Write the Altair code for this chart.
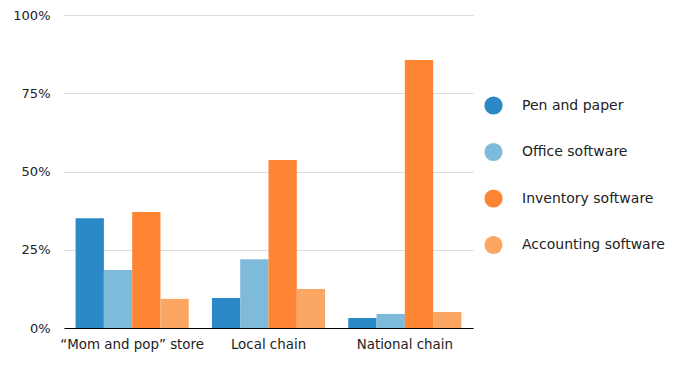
import altair as alt
import pandas as pd

categories = ["\u201cMom and pop\u201d store", "Local chain", "National chain"]
series = ["Pen and paper", "Office software", "Inventory software", "Accounting software"]
colors = ["#2a89c6", "#7ebada", "#fe8533", "#fba663"]
values = {
    "Pen and paper": [35.1, 9.6, 3.2],
    "Office software": [18.5, 22.0, 4.5],
    "Inventory software": [37.1, 53.7, 85.6],
    "Accounting software": [9.3, 12.5, 5.1],
}

rows = []
for s in series:
    for c, v in zip(categories, values[s]):
        rows.append({"category": c, "series": s, "value": v / 100})
df = pd.DataFrame(rows)

font = "DejaVu Sans"

chart = alt.Chart(df).mark_bar().encode(
    x=alt.X("category:N", sort=categories, title=None,
            scale=alt.Scale(paddingInner=0.17, paddingOuter=0.085),
            axis=alt.Axis(labelAngle=0, ticks=False, domainColor="#000000",
                          labelPadding=9, labelFontSize=13.4, labelFont=font,
                          labelColor="#222222")),
    xOffset=alt.XOffset("series:N", sort=series, scale=alt.Scale(paddingInner=0, paddingOuter=0)),
    y=alt.Y("value:Q", title=None,
            scale=alt.Scale(domain=[0, 1]),
            axis=alt.Axis(format="%", values=[0, 0.25, 0.5, 0.75, 1], domain=False, ticks=False,
                          labelPadding=14, labelFontSize=13, labelFont=font,
                          labelColor="#222222", gridColor="#dddddd")),
    color=alt.Color("series:N", sort=series, title=None,
                    scale=alt.Scale(domain=series, range=colors),
                    legend=alt.Legend(orient="none", legendX=420, legendY=81,
                                      symbolType="circle", symbolSize=330,
                                      symbolStrokeWidth=0, symbolOpacity=1,
                                      labelFontSize=14, labelFont=font, labelColor="#222222",
                                      rowPadding=27.5, labelOffset=19)),
).properties(
    width=409, height=313,
    autosize=alt.AutoSizeParams(type="none"),
    padding={"left": 56, "top": 7, "right": 194, "bottom": 26},
).configure_view(stroke=None)

chart.save("out.html", embed_options={"renderer": "svg", "actions": False})
